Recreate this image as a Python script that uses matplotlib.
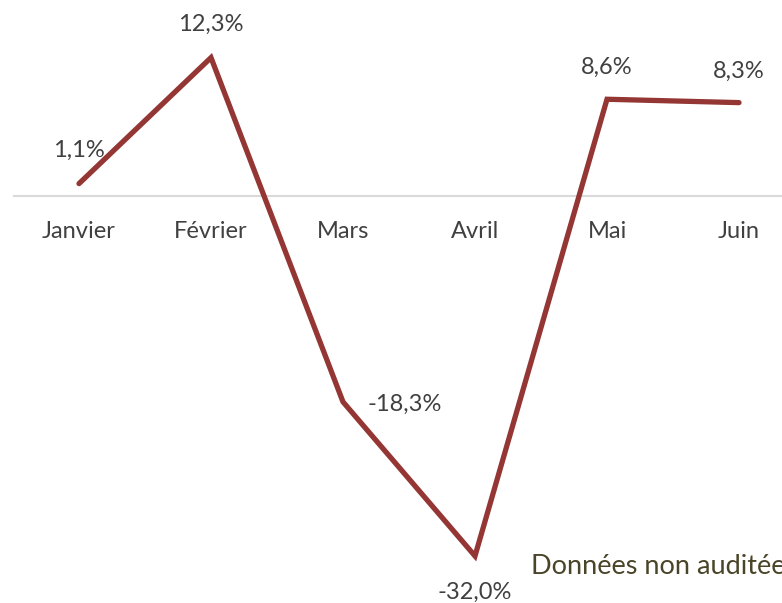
import numpy as np
import matplotlib.pyplot as plt

plt.rcParams['font.family'] = ['Lato', 'DejaVu Sans']

mois = ['Janvier', 'Février', 'Mars', 'Avril', 'Mai', 'Juin']
variation = [1.1, 12.3, -18.3, -32.0, 8.6, 8.3]
etiquettes = ['1,1%', '12,3%', '-18,3%', '-32,0%', '8,6%', '8,3%']

fig = plt.figure(figsize=(7.82, 6.03), dpi=100)
ax = fig.add_axes([0, 0, 1, 1])
x = np.arange(len(mois))

ax.axhline(0, xmin=14/782, xmax=1, color='#d9d9d9', lw=1.5, zorder=1)
ax.plot(x, variation, color='#943634', lw=3.8, solid_capstyle='round',
        solid_joinstyle='miter', zorder=3)

# position of each data label (offset in pixels)
offsets = [(0, 33), (0, 33), (62, -2), (0, -36), (0, 32), (0, 31)]
for xi, v, lab, off in zip(x, variation, etiquettes, offsets):
    ax.annotate(lab, (xi, v), xytext=off, textcoords='offset pixels',
                ha='center', va='center', fontsize=17, color='#404040')

for xi, m in zip(x, mois):
    ax.annotate(m, (xi, 0), xytext=(0, -35), textcoords='offset pixels',
                ha='center', va='center', fontsize=17, color='#404040')

# note is cut by the right edge, as in the original
fig.text(531/782, 1 - 566/603, 'Données non auditées', ha='left', va='center',
         fontsize=19.5, color='#4a4528')

ax.set_xlim(-79/132, (782-79)/132)
ax.set_ylim(-(603-196)/11.25, 196/11.25)
ax.axis('off')

fig.savefig('out.png', dpi=100)
